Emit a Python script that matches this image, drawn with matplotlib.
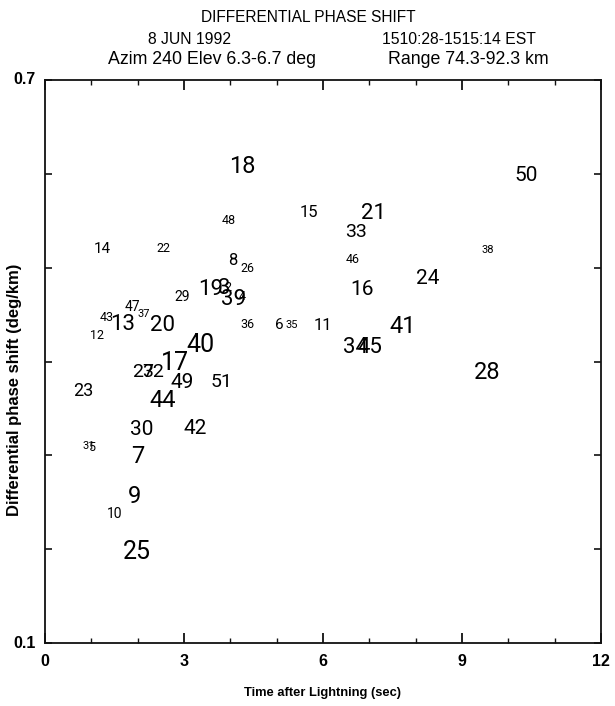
import matplotlib
matplotlib.use("Agg")
import matplotlib.pyplot as plt
from matplotlib.ticker import MultipleLocator, FixedLocator

# Case numbers plotted as text markers
labels = ["18", "48", "15", "21", "33", "50", "14", "22", "38", "8",
          "46", "26", "24", "16", "19", "3", "2", "39", "4", "29",
          "47", "43", "37", "13", "20", "12", "36", "6", "35", "11",
          "41", "40", "34", "45", "17", "27", "32", "28", "49", "51",
          "23", "44", "30", "42", "31", "5", "7", "9", "10", "25"]

# Time after lightning (s)
time_s = [4.25, 3.97, 5.70, 7.10, 6.71, 10.38, 1.23, 2.55, 9.56, 4.06,
          6.63, 4.36, 8.25, 6.84, 3.58, 3.86, 3.95, 4.06, 4.25, 2.96,
          1.88, 1.34, 2.14, 1.68, 2.53, 1.12, 4.36, 5.05, 5.33, 6.00,
          7.71, 3.35, 6.69, 7.01, 2.81, 2.12, 2.33, 9.54, 2.96, 3.82,
          0.82, 2.53, 2.09, 3.24, 0.95, 1.00, 2.01, 1.94, 1.51, 1.99]

# Differential phase shift (deg/km)
kdp = [0.608, 0.550, 0.559, 0.558, 0.538, 0.598, 0.520, 0.520, 0.519, 0.508,
       0.509, 0.499, 0.488, 0.477, 0.477, 0.478, 0.479, 0.466, 0.469, 0.469,
       0.458, 0.447, 0.451, 0.439, 0.438, 0.428, 0.439, 0.439, 0.439, 0.438,
       0.437, 0.418, 0.415, 0.415, 0.398, 0.389, 0.389, 0.388, 0.378, 0.378,
       0.369, 0.358, 0.327, 0.329, 0.310, 0.308, 0.299, 0.256, 0.237, 0.197]

# Marker text size (pt) for each case
marker_pt = [17, 9, 12, 16, 14, 15, 11, 9, 8, 12,
             9, 9, 15, 15, 16, 16, 9, 16, 9, 10,
             10, 9, 8, 16, 16, 9, 9, 11, 8, 12,
             17, 18, 16, 16, 18, 14, 14, 17, 15, 14,
             13, 17, 15, 15, 8, 9, 17, 17, 10, 18]

x_ticks = [0, 3, 6, 9, 12]
y_ticks = [0.1, 0.7]

W, H = 615, 706
fig = plt.figure(figsize=(W / 100, H / 100), dpi=100)
ax = fig.add_axes([45 / W, 1 - 643 / H, 556 / W, 563 / H])

ax.set_xlim(0, 12)
ax.set_ylim(0.1, 0.7)

mark_font = ["Roboto", "DejaVu Sans"]
for lab, x, y, s in zip(labels, time_s, kdp, marker_pt):
    ax.text(x, y, lab, fontsize=s, family=mark_font, fontweight="normal",
            ha="center", va="center", color="black")

ax.xaxis.set_major_locator(FixedLocator(x_ticks))
ax.xaxis.set_minor_locator(MultipleLocator(1))
ax.yaxis.set_major_locator(MultipleLocator(0.1))
ax.set_yticklabels([])
ax.set_xticklabels([str(v) for v in x_ticks])

ax.tick_params(axis="both", which="both", direction="in",
               top=True, right=True, color="#111111")
ax.tick_params(axis="x", which="major", length=7, width=1.3, pad=8,
               labelsize=11.5)
ax.tick_params(axis="x", which="minor", length=3.5, width=1.0)
ax.tick_params(axis="y", which="major", length=5, width=1.2, labelleft=False)

for sp in ax.spines.values():
    sp.set_linewidth(1.3)
    sp.set_color("#111111")

lab_font = "Liberation Sans"
for yv in y_ticks:
    ax.text(-0.2, yv, f"{yv:.1f}", transform=ax.transData, ha="right",
            va="center", fontsize=11.5, family=lab_font, fontweight="bold")
for t in ax.get_xticklabels():
    t.set_family(lab_font)
    t.set_fontweight("bold")

fig.text(308 / W, 1 - 18 / H, "DIFFERENTIAL PHASE SHIFT", ha="center",
         va="center", fontsize=11.2, family=lab_font)
fig.text(190 / W, 1 - 40 / H, "8 JUN 1992", ha="center", va="center",
         fontsize=11.3, family=lab_font)
fig.text(459 / W, 1 - 40 / H, "1510:28-1515:14 EST", ha="center",
         va="center", fontsize=11.3, family=lab_font)
fig.text(212 / W, 1 - 60 / H, "Azim 240 Elev 6.3-6.7 deg", ha="center",
         va="center", fontsize=12.8, family=lab_font)
fig.text(468 / W, 1 - 60 / H, "Range 74.3-92.3 km", ha="center",
         va="center", fontsize=12.8, family=lab_font)

fig.text(323 / W, 1 - 693 / H, "Time after Lightning (sec)", ha="center",
         va="center", fontsize=9.3, family=lab_font, fontweight="bold")
fig.text(15 / W, 1 - 390 / H, "Differential phase shift (deg/km)",
         ha="center", va="center", rotation=90, fontsize=12,
         family=lab_font, fontweight="bold")

fig.savefig("out.png", dpi=100)
